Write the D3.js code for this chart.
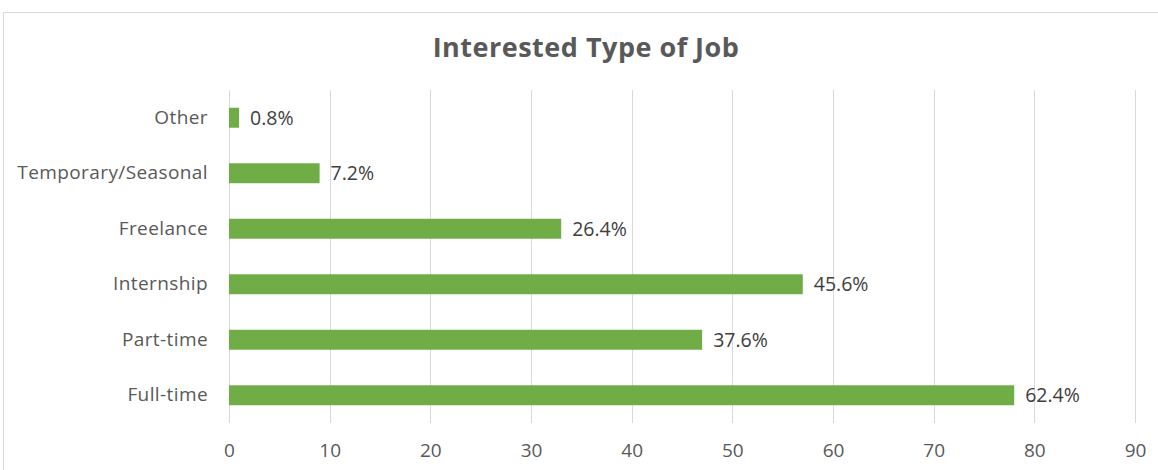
<!DOCTYPE html>
<html>
<head>
<meta charset="utf-8">
<script src="https://cdn.jsdelivr.net/npm/d3@7"></script>
<style>
  html, body { margin: 0; padding: 0; background: #fff; }
  svg { display: block; font-family: "Open Sans", "Noto Sans", sans-serif; }
</style>
</head>
<body>
<svg id="chart" width="1158" height="470"></svg>
<script>
// Survey: type of job respondents are interested in
const categories = ["Other", "Temporary/Seasonal", "Freelance", "Internship", "Part-time", "Full-time"];
const percentages = [0.8, 7.2, 26.4, 45.6, 37.6, 62.4];
const totalRespondents = 125;
const xTicks = [0, 10, 20, 30, 40, 50, 60, 70, 80, 90];

// Bars show respondent counts; labels show the share of respondents
const counts = percentages.map(p => Math.round(p / 100 * totalRespondents));

const svg = d3.select("#chart");
const W = 1158, H = 470;
const margin = { left: 229, right: 23, top: 90, bottom: 47 };
const labelFont = "Open Sans, Noto Sans, sans-serif";

// Outer chart frame
svg.append("rect")
  .attr("x", 3.5).attr("y", 12.5)
  .attr("width", 1170).attr("height", 470)
  .attr("fill", "#fff").attr("stroke", "#d9d9d9").attr("stroke-width", 1);

const x = d3.scaleLinear().domain([0, 90]).range([margin.left, W - margin.right]);
const y = d3.scaleBand().domain(categories).range([margin.top, H - margin.bottom]).paddingInner(0.64).paddingOuter(0.32);

// Vertical gridlines
svg.append("g")
  .selectAll("line")
  .data(xTicks)
  .join("line")
  .attr("x1", d => Math.round(x(d)) + 0.5)
  .attr("x2", d => Math.round(x(d)) + 0.5)
  .attr("y1", margin.top)
  .attr("y2", H - margin.bottom)
  .attr("stroke", "#d9d9d9")
  .attr("stroke-width", 1);

// X axis tick labels
const xAxis = d3.axisBottom(x).tickValues(xTicks).tickSize(0).tickPadding(0);
const gx = svg.append("g")
  .attr("transform", `translate(0, ${H - margin.bottom + 20})`)
  .call(xAxis);
gx.select(".domain").remove();
gx.selectAll("text")
  .attr("fill", "#595959")
  .attr("font-size", 19)
  .attr("font-family", labelFont);

// Y axis category labels
const yAxis = d3.axisLeft(y).tickSize(0).tickPadding(21);
const gy = svg.append("g")
  .attr("transform", `translate(${margin.left}, 0)`)
  .call(yAxis);
gy.select(".domain").remove();
gy.selectAll("text")
  .attr("fill", "#595959")
  .attr("font-size", 19)
  .attr("letter-spacing", 0.4)
  .attr("font-family", labelFont);

// Bars
svg.append("g")
  .selectAll("rect")
  .data(categories)
  .join("rect")
  .attr("x", x(0))
  .attr("y", d => y(d))
  .attr("width", (d, i) => x(counts[i]) - x(0))
  .attr("height", y.bandwidth())
  .attr("fill", "#70ad47");

// Percentage labels
svg.append("g")
  .selectAll("text")
  .data(categories)
  .join("text")
  .attr("x", (d, i) => x(counts[i]) + 11)
  .attr("y", d => y(d) + y.bandwidth() / 2)
  .attr("dy", "0.36em")
  .attr("fill", "#404040")
  .attr("font-size", 19.5)
  .text((d, i) => percentages[i].toFixed(1) + "%");

// Title
svg.append("text")
  .attr("x", 586)
  .attr("y", 57)
  .attr("text-anchor", "middle")
  .attr("fill", "#595959")
  .attr("font-size", 27)
  .attr("font-weight", "bold")
  .attr("letter-spacing", 0.5)
  .text("Interested Type of Job");
</script>
</body>
</html>
